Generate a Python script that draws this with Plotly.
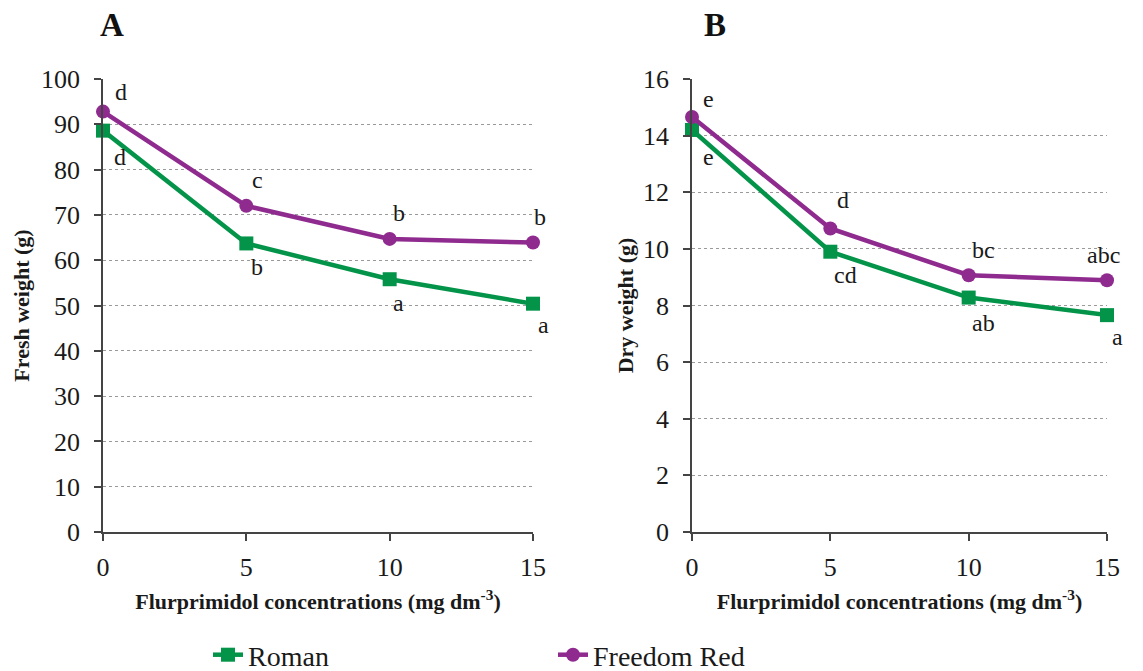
import plotly.graph_objects as go

# ---------------- data ----------------
concentrations = [0, 5, 10, 15]
series_names = ["Roman", "Freedom Red"]

fresh_roman = [88.6, 63.7, 55.8, 50.4]
fresh_freedom = [92.8, 72.0, 64.7, 63.9]
fresh_letters_roman = ["d", "b", "a", "a"]
fresh_letters_freedom = ["d", "c", "b", "b"]

dry_roman = [14.2, 9.9, 8.28, 7.66]
dry_freedom = [14.66, 10.72, 9.07, 8.89]
dry_letters_roman = ["e", "cd", "ab", "a"]
dry_letters_freedom = ["e", "d", "bc", "abc"]

x_ticks = [0, 5, 10, 15]
fresh_ticks = list(range(0, 101, 10))
dry_ticks = list(range(0, 17, 2))

# ---------------- styles ----------------
GREEN = "#03944a"
PURPLE = "#8f2a8f"
SERIF = "Liberation Serif, Times New Roman, serif"
TXT = "#1a1a1a"

# label pixel offsets (xshift, yshift) per point
off_fresh_freedom = [(18, 20), (11, 26), (9, 26), (7, 26)]
off_fresh_roman = [(17, -26), (11, -24), (9, -24), (10, -21)]
off_dry_freedom = [(16, 18), (13, 28), (15, 25), (-4, 25)]
off_dry_roman = [(16, -27), (15, -23), (15, -25), (10, -22)]

fig = go.Figure()

def add_series(x, y, name, color, symbol, xa, ya, show):
    fig.add_trace(go.Scatter(
        x=x, y=y, name=name, mode="lines+markers",
        line=dict(color=color, width=4.5),
        marker=dict(color=color, size=14, symbol=symbol),
        xaxis=xa, yaxis=ya, showlegend=show, cliponaxis=False,
    ))

add_series(concentrations, fresh_roman, series_names[0], GREEN, "square", "x", "y", True)
add_series(concentrations, fresh_freedom, series_names[1], PURPLE, "circle", "x", "y", True)
add_series(concentrations, dry_roman, series_names[0], GREEN, "square", "x2", "y2", False)
add_series(concentrations, dry_freedom, series_names[1], PURPLE, "circle", "x2", "y2", False)

annotations = []
def add_letters(xs, ys, letters, offs, xref, yref):
    for xv, yv, t, (dx, dy) in zip(xs, ys, letters, offs):
        annotations.append(dict(
            x=xv, y=yv, xref=xref, yref=yref, text=t, showarrow=False,
            xshift=dx, yshift=dy, font=dict(family=SERIF, size=24, color=TXT),
        ))

add_letters(concentrations, fresh_freedom, fresh_letters_freedom, off_fresh_freedom, "x", "y")
add_letters(concentrations, fresh_roman, fresh_letters_roman, off_fresh_roman, "x", "y")
add_letters(concentrations, dry_freedom, dry_letters_freedom, off_dry_freedom, "x2", "y2")
add_letters(concentrations, dry_roman, dry_letters_roman, off_dry_roman, "x2", "y2")

W, H = 1143, 671

for lab, xp in (("A", 112 / W), ("B", 715 / W)):
    annotations.append(dict(
        x=xp, y=(H - 25) / H, xref="paper", yref="paper", text="<b>%s</b>" % lab,
        showarrow=False, xanchor="center", yanchor="middle",
        font=dict(family=SERIF, size=33, color="#111"),
    ))

ydom = [(H - 532) / H, (H - 79) / H]

axis_common = dict(
    showline=True, linecolor="#444", linewidth=1.5,
    ticks="outside", ticklen=7, tickwidth=1.5, tickcolor="#444",
    tickfont=dict(family=SERIF, size=26, color=TXT),
    zeroline=False, automargin=False,
)
xtitle = dict(
    text="Flurprimidol concentrations (mg dm<sup>-3</sup>)",
    font=dict(family=SERIF, size=22, color=TXT, weight="bold"),
    standoff=13,
)

fig.update_layout(
    width=W, height=H,
    margin=dict(l=0, r=0, t=0, b=0, autoexpand=False),
    paper_bgcolor="white", plot_bgcolor="white",
    annotations=annotations,
    xaxis=dict(domain=[103 / W, 533 / W], range=[0, 15], tickvals=x_ticks,
               showgrid=False, anchor="y", title=xtitle, ticklabelstandoff=4,
               **axis_common),
    yaxis=dict(domain=ydom, range=[0, 100], tickvals=fresh_ticks,
               showgrid=True, gridcolor="#9a9a9a", griddash="dot", gridwidth=1,
               anchor="x", ticklabelstandoff=9,
               title=dict(text="Fresh weight (g)", standoff=5,
                          font=dict(family=SERIF, size=22, color=TXT, weight="bold")),
               **axis_common),
    xaxis2=dict(domain=[692 / W, 1107 / W], range=[0, 15], tickvals=x_ticks,
                showgrid=False, anchor="y2", title=xtitle, ticklabelstandoff=4,
                **axis_common),
    yaxis2=dict(domain=ydom, range=[0, 16], tickvals=dry_ticks,
                showgrid=True, gridcolor="#9a9a9a", griddash="dot", gridwidth=1,
                anchor="x2", ticklabelstandoff=9,
                title=dict(text="Dry weight (g)", standoff=3,
                           font=dict(family=SERIF, size=22, color=TXT, weight="bold")),
                **axis_common),
    legend=dict(
        orientation="h", x=208 / W, y=(H - 655) / H, xanchor="left", yanchor="middle",
        font=dict(family=SERIF, size=28, color=TXT),
        entrywidth=300, entrywidthmode="pixels", itemwidth=30,
        bgcolor="rgba(0,0,0,0)",
    ),
)

fig.write_html("out.html", config={"displayModeBar": False},
               post_script="document.body.style.margin='0';")
